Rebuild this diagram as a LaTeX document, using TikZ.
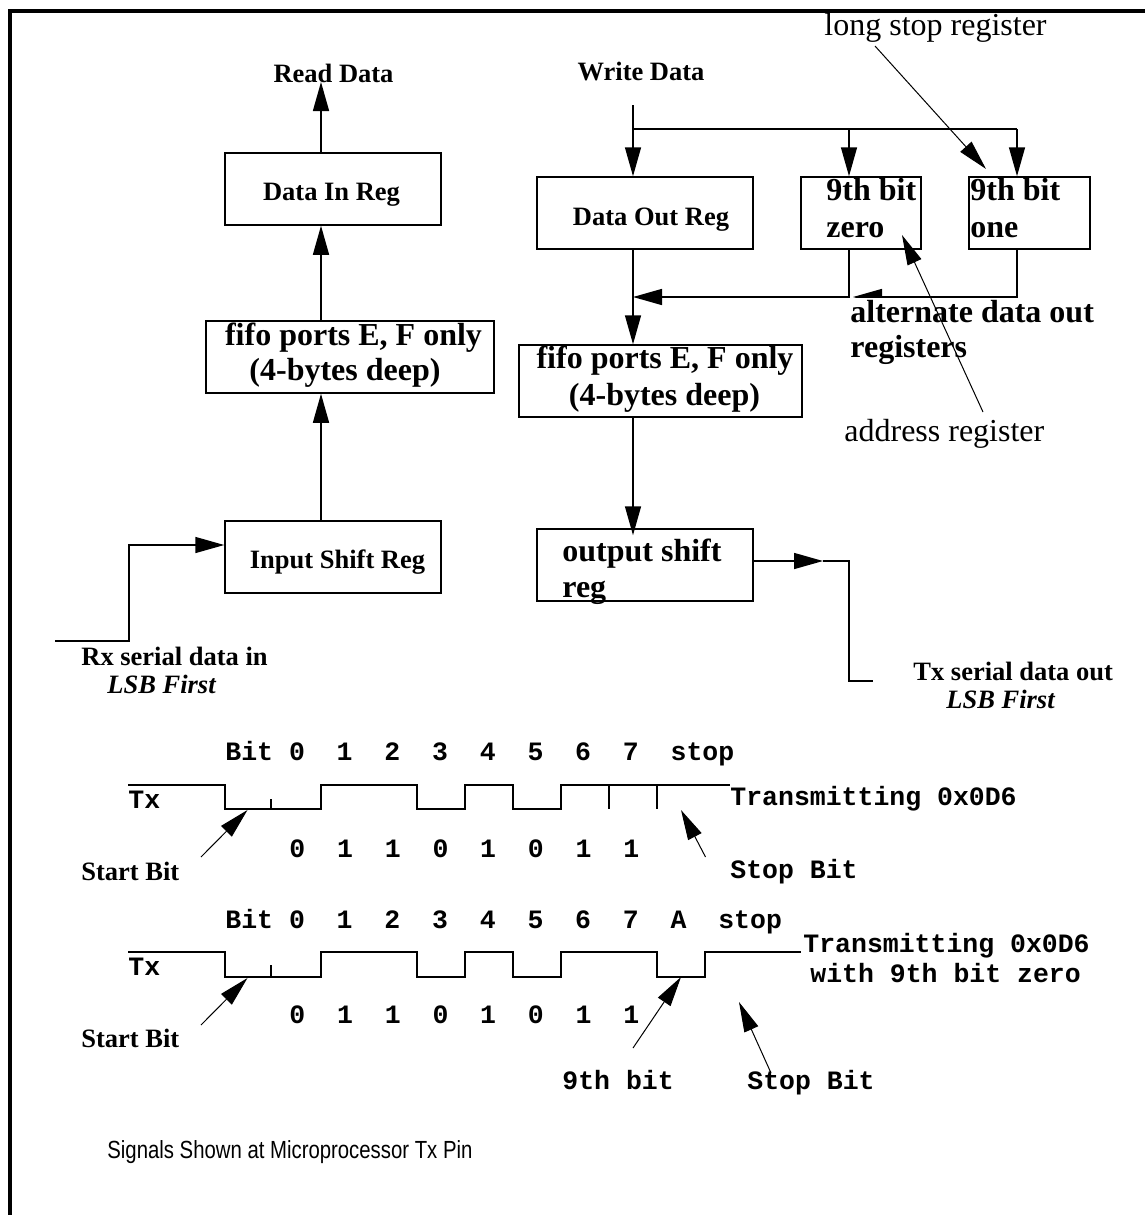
\documentclass[tikz,border=0pt]{standalone}
\usepackage{fontspec}
\setmainfont{Liberation Serif}
\newfontfamily\courfont{Liberation Mono}
\newfontfamily\helvfont[FakeStretch=0.82]{Liberation Sans}
\usetikzlibrary{arrows.meta,fit}
\tikzset{
  box/.style={draw, line width=0.75pt, inner sep=0pt},
  conn/.style={line width=0.75pt, -{Triangle[length=14.5pt,width=8pt]}},
  plain/.style={line width=0.75pt},
  thinarr/.style={line width=0.5pt, -{Triangle[length=15pt,width=7.5pt]}},
  wave/.style={line width=0.8pt},
  lbl/.style={inner sep=0pt, font=\fontsize{13.25pt}{16pt}\selectfont\bfseries},
  big/.style={inner sep=0pt, font=\fontsize{16pt}{18pt}\selectfont\bfseries},
  bigreg/.style={inner sep=0pt, font=\fontsize{16pt}{18pt}\selectfont},
  mono/.style={inner sep=0pt, font=\courfont\fontsize{13.25pt}{16pt}\selectfont\bfseries},
  note/.style={inner sep=0pt, font=\helvfont\fontsize{12.4pt}{14pt}\selectfont},
  frameline/.style={line width=1.6pt, line join=miter},
}
\begin{document}
\begin{tikzpicture}[x=0.5pt,y=-0.5pt]
\useasboundingbox (0,0) rectangle (1145,1215);
\fill[white] (0,0) rectangle (1145,1215);
% frame
\draw[frameline] (10,1225) -- (10,11) -- (1155,11);

% boxes
\node[box, fit={(225,153) (441,225)}] (din) {};
\node[box, fit={(206,321) (494,393)}] (fifoL) {};
\node[box, fit={(225,521) (441,593)}] (isr) {};
\node[box, fit={(537,177) (753,249)}] (dout) {};
\node[box, fit={(801,177) (921,249)}] (z9) {};
\node[box, fit={(969,177) (1090,249)}] (o9) {};
\node[box, fit={(519,345) (802,417)}] (fifoR) {};
\node[box, fit={(537,529) (753,601)}] (osr) {};

% text
\node[lbl, anchor=base] (rdt) at (333.5,82) {Read Data};
\node[lbl, anchor=base] (wdt) at (641,80) {Write Data};
\node[lbl, anchor=base] (dint) at (331.5,200) {Data In Reg};
\node[big, anchor=base] (fl1) at (353.5,345) {fifo ports E, F only};
\node[big, anchor=base] (fl2) at (345,380) {(4-bytes deep)};
\node[lbl, anchor=base] (isrt) at (337.5,568) {Input Shift Reg};
\node[lbl, anchor=base west] (rx1) at (81,665) {Rx serial data in};
\node[lbl, anchor=base west] (rx2) at (107,693) {\itshape LSB First};
\node[lbl, anchor=base] (doutt) at (651,225) {Data Out Reg};
\node[big, anchor=base west] (z9a) at (826,200) {9th bit};
\node[big, anchor=base west] (z9b) at (826,237) {zero};
\node[big, anchor=base west] (o9a) at (970,200) {9th bit};
\node[big, anchor=base west] (o9b) at (970,237) {one};
\node[big, anchor=base] (fr1) at (665,368) {fifo ports E, F only};
\node[big, anchor=base] (fr2) at (664.5,405) {(4-bytes deep)};
\node[big, anchor=base west] (os1) at (562,561) {output shift};
\node[big, anchor=base west] (os2) at (562,597) {reg};
\node[big, anchor=base west] (alt2) at (850,357) {registers};
\node[bigreg, anchor=base west] (lst) at (824,35) {long stop register};
\node[bigreg, anchor=base west] (adr) at (844,441) {address register};
\node[lbl, anchor=base west] (tx1) at (913,680) {Tx serial data out};
\node[lbl, anchor=base west] (tx2) at (946,708) {\itshape LSB First};

% left column connectors
\coordinate (cL) at (321,0);
\draw[conn] (din.north -| cL) -- (rdt.base -| cL);
\draw[conn] (fifoL.north -| cL) -- (din.south -| cL);
\draw[conn] (isr.north -| cL) -- (fifoL.south -| cL);
\coordinate (rxin) at (55,641);
\coordinate (rxk) at (129,545);
\draw[conn] (rxin) -| (rxk) -- (rxk -| isr.west);

% right column connectors
\coordinate (wd) at (633,105);
\coordinate (cz) at (849,129);
\coordinate (co) at (1017,129);
\draw[plain] (wd |- cz) -- (co);
\draw[conn] (wd) -- (wd |- dout.north);
\draw[conn] (cz) -- (cz |- z9.north);
\draw[conn] (co) -- (co |- o9.north);
\draw[conn] (dout.south -| wd) -- (fifoR.north -| wd);
\coordinate (bus) at (0,297);
\draw[conn] (z9.south -| cz) -- (cz |- bus) -- (wd |- bus);
\draw[conn, shorten >=2pt] (o9.south -| co) -- (co |- bus) -- (cz |- bus);
\draw[conn, shorten >=-3.5pt] (fifoR.south -| wd) -- (osr.north -| wd);
\coordinate (txk) at (823,561);
\coordinate (txc) at (849,561);
\coordinate (txout) at (873,681);
\draw[conn] (osr.east |- txk) -- (txk);
\draw[plain] (txk) -- (txc) |- (txout);

\node[big, anchor=base west, fill=white, inner xsep=0pt, inner ysep=1pt] (alt1) at (850,322) {alternate data out};

% thin annotation arrows
\coordinate (lsA) at (875,46);
\coordinate (lsB) at (986,169);
\draw[thinarr] (lsA) -- (lsB);
\coordinate (adA) at (983,412);
\coordinate (adB) at (902,235);
\draw[thinarr] (adA) -- (adB);

% waveform 1
\node[mono, anchor=base west] (bits1) at (225,760) {Bit~0~~1~~2~~3~~4~~5~~6~~7~~stop};
\node[mono, anchor=base west] (txl1) at (128,808) {Tx};
\node[mono, anchor=base west] (trans1) at (730,805) {Transmitting 0x0D6};
\node[mono, anchor=base west] (vals1) at (289,857) {0~~1~~1~~0~~1~~0~~1~~1};
\node[lbl, anchor=base west] (start1) at (81,880) {Start Bit};
\node[mono, anchor=base west] (stop1) at (730,878) {Stop Bit};
\draw[wave] (128,785) -- (225,785) -- (225,809) -- (321,809) -- (321,785)
  -- (417,785) -- (417,809) -- (465,809) -- (465,785) -- (513,785)
  -- (513,809) -- (561,809) -- (561,785) -- (730,785);
\draw[wave] (609,785) -- (609,809);
\draw[wave] (657,785) -- (657,809);
\draw[wave] (271,809) -- (271,799);
\coordinate (s1A) at (201,857);
\coordinate (s1B) at (247.5,810);
\draw[thinarr] (s1A) -- (s1B);
\coordinate (p1A) at (705.5,857);
\coordinate (p1B) at (681,810);
\draw[thinarr] (p1A) -- (p1B);

% waveform 2
\node[mono, anchor=base west] (bits2) at (225,928) {Bit~0~~1~~2~~3~~4~~5~~6~~7~~A~~stop};
\node[mono, anchor=base west] (txl2) at (128,975) {Tx};
\node[mono, anchor=base west] (trans2) at (803,952) {Transmitting 0x0D6};
\node[mono, anchor=base west] (trans2b) at (810,982) {with 9th bit zero};
\node[mono, anchor=base west] (vals2) at (289,1023) {0~~1~~1~~0~~1~~0~~1~~1};
\node[lbl, anchor=base west] (start2) at (81,1047) {Start Bit};
\node[mono, anchor=base west] (ninth) at (562,1089) {9th bit};
\node[mono, anchor=base west] (stop2) at (747,1089) {Stop Bit};
\draw[wave] (128,952) -- (225,952) -- (225,977) -- (321,977) -- (321,952)
  -- (417,952) -- (417,977) -- (465,977) -- (465,952) -- (513,952)
  -- (513,977) -- (561,977) -- (561,952) -- (657,952) -- (657,977)
  -- (705,977) -- (705,952) -- (801,952);
\draw[wave] (271,977) -- (271,965);
\coordinate (s2A) at (201,1025);
\coordinate (s2B) at (247.5,978);
\draw[thinarr] (s2A) -- (s2B);
\coordinate (n2A) at (633,1048);
\coordinate (n2B) at (681,977);
\draw[thinarr] (n2A) -- (n2B);
\coordinate (p2A) at (771,1073);
\coordinate (p2B) at (739,1002);
\draw[thinarr] (p2A) -- (p2B);

\node[note, anchor=base west] (sig) at (107,1158) {Signals Shown at Microprocessor Tx Pin};
\end{tikzpicture}
\end{document}
